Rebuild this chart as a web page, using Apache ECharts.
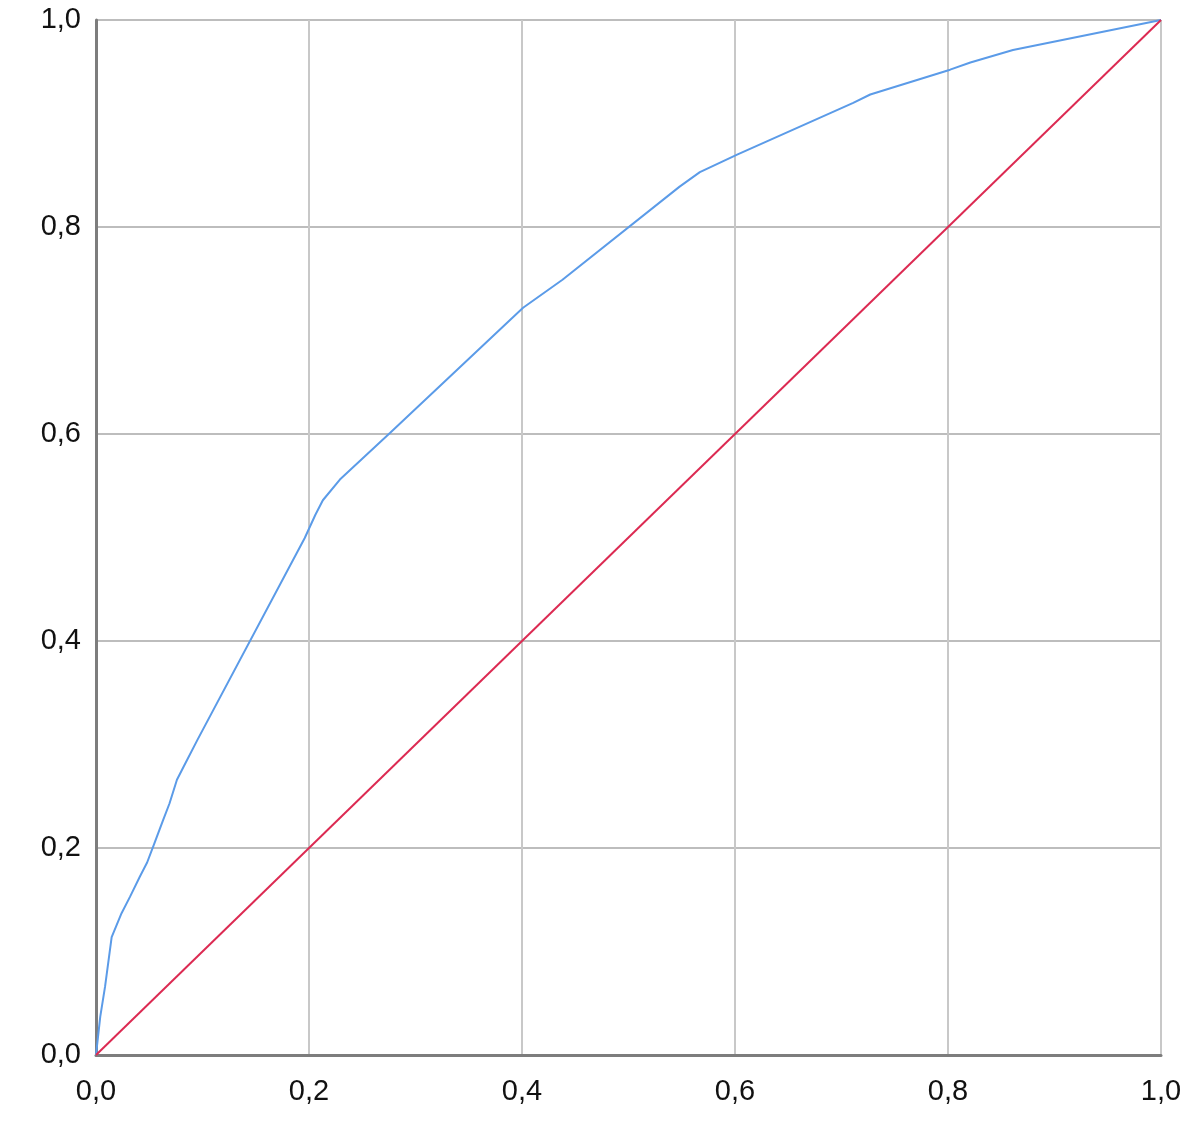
<!DOCTYPE html>
<html>
<head>
<meta charset="utf-8">
<script src="https://cdn.jsdelivr.net/npm/echarts@6/dist/echarts.min.js"></script>
<style>html,body{margin:0;padding:0;background:#fff}#c{width:1200px;height:1144px}</style>
</head>
<body>
<div id="c"></div>
<script>
// ROC curve: false positive rate (x) vs true positive rate (y)
const rocX = [0, 0.004, 0.0085, 0.0147, 0.024, 0.032, 0.041, 0.048, 0.055, 0.063, 0.069, 0.076, 0.082, 0.095, 0.196, 0.206, 0.213, 0.229, 0.276, 0.401, 0.438, 0.548, 0.567, 0.602, 0.711, 0.727, 0.802, 0.821, 0.861, 1];
const rocY = [0, 0.037, 0.066, 0.114, 0.137, 0.153, 0.172, 0.186, 0.205, 0.227, 0.243, 0.266, 0.278, 0.304, 0.4995, 0.522, 0.536, 0.556, 0.601, 0.722, 0.749, 0.839, 0.853, 0.870, 0.920, 0.928, 0.952, 0.959, 0.971, 1];
const refX = [0, 1];
const refY = [0, 1];
const ticks = [0, 0.2, 0.4, 0.6, 0.8, 1.0];

const chart = echarts.init(document.getElementById('c'));
const fmt = v => v.toFixed(1).replace('.', ',');
const labelStyle = {fontFamily: 'Liberation Sans', fontSize: 29, color: '#111', formatter: fmt};
chart.setOption({
  animation: false,
  grid: {left: 96, right: 39, top: 20, bottom: 89, containLabel: false},
  xAxis: {
    type: 'value', min: ticks[0], max: ticks[ticks.length - 1], interval: 0.2,
    axisLine: {show: true, onZero: false, lineStyle: {color: '#7d7d7d', width: 3}},
    axisTick: {show: false},
    axisLabel: Object.assign({margin: 22}, labelStyle),
    splitLine: {show: true, lineStyle: {color: '#c8c8c8', width: 2}}
  },
  yAxis: {
    type: 'value', min: ticks[0], max: ticks[ticks.length - 1], interval: 0.2,
    axisLine: {show: true, onZero: false, lineStyle: {color: '#7d7d7d', width: 3}},
    axisTick: {show: false},
    axisLabel: Object.assign({margin: 15}, labelStyle),
    splitLine: {show: true, lineStyle: {color: '#bdbdbd', width: 2}}
  },
  series: [
    {
      type: 'line', showSymbol: false, smooth: false,
      data: rocX.map((x, i) => [x, rocY[i]]),
      lineStyle: {color: '#5b9be8', width: 2}
    },
    {
      type: 'line', showSymbol: false, smooth: false,
      data: refX.map((x, i) => [x, refY[i]]),
      lineStyle: {color: '#dc2a52', width: 2}
    }
  ]
});
</script>
</body>
</html>
